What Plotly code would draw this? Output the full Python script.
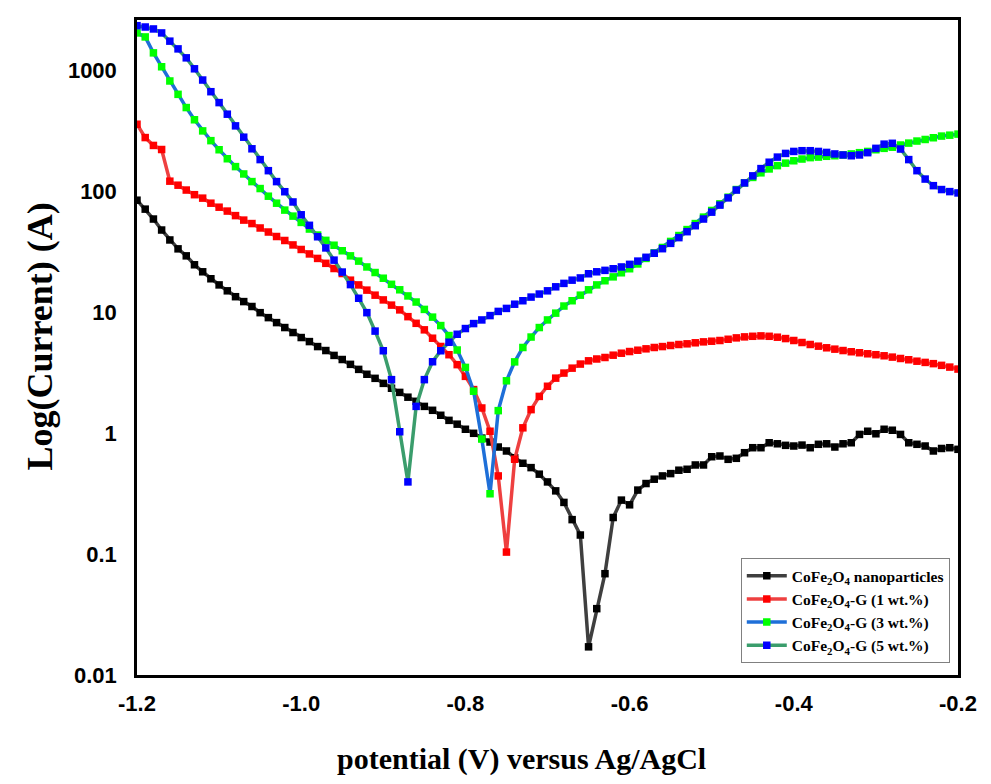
import plotly.graph_objects as go

# Potential sweep (V vs Ag/AgCl), 10 mV steps from -1.20 to -0.20
potential = [round(-1.20 + 0.01 * i, 2) for i in range(101)]

cofe2o4_np = [
    84.9, 71.6, 59.3, 48.1, 39.8, 33.6, 29.4, 24.8, 21.7, 19.0,
    16.9, 15.1, 13.5, 12.3, 11.2, 9.96, 9.06, 8.24, 7.50, 6.82,
    6.20, 5.74, 5.22, 4.84, 4.41, 4.08, 3.72, 3.38, 3.08, 2.85,
    2.59, 2.36, 2.18, 1.99, 1.84, 1.67, 1.55, 1.41, 1.28, 1.19,
    1.08, 1.00, 0.913, 0.847, 0.770, 0.714, 0.628, 0.565, 0.520, 0.459,
    0.396, 0.334, 0.268, 0.193, 0.144, 0.0171, 0.0354, 0.0689, 0.201, 0.280,
    0.256, 0.339, 0.384, 0.417, 0.444, 0.464, 0.495, 0.504, 0.547, 0.547,
    0.640, 0.649, 0.609, 0.621, 0.691, 0.760, 0.760, 0.835, 0.819, 0.795,
    0.785, 0.799, 0.760, 0.811, 0.819, 0.770, 0.819, 0.835, 0.979, 1.04,
    0.991, 1.08, 1.06, 0.979, 0.835, 0.811, 0.785, 0.714, 0.749, 0.760,
    0.737,
]

cofe2o4_g1 = [
    361, 280, 241, 223, 122, 113, 103, 94.3, 88.3, 80.2,
    74.3, 69.0, 63.3, 58.1, 54.4, 50.0, 46.3, 42.5, 39.4, 36.2,
    33.2, 30.5, 28.0, 25.5, 23.1, 21.0, 18.5, 16.9, 15.3, 13.9,
    12.7, 11.5, 10.5, 9.23, 8.13, 7.18, 6.12, 5.23, 4.47, 3.70,
    2.96, 2.30, 1.62, 1.04, 0.444, 0.104, 0.610, 1.11, 1.57, 2.02,
    2.45, 2.86, 3.15, 3.46, 3.74, 3.98, 4.12, 4.24, 4.43, 4.60,
    4.75, 4.87, 5.00, 5.13, 5.22, 5.33, 5.43, 5.50, 5.61, 5.71,
    5.78, 5.86, 6.00, 6.16, 6.28, 6.35, 6.40, 6.35, 6.24, 6.08,
    5.86, 5.64, 5.43, 5.26, 5.10, 4.97, 4.84, 4.73, 4.64, 4.55,
    4.47, 4.38, 4.27, 4.16, 4.06, 3.95, 3.86, 3.77, 3.65, 3.53,
    3.40,
]

cofe2o4_g3 = [
    2056, 1905, 1406, 1079, 823, 638, 496, 393, 318, 264,
    222, 187, 161, 140, 121, 106, 91.6, 80.2, 70.3, 62.7,
    55.6, 49.0, 43.7, 39.5, 36.0, 32.4, 29.4, 26.6, 23.8, 21.4,
    19.2, 17.1, 15.4, 13.7, 12.2, 10.6, 9.15, 7.79, 6.44, 4.89,
    3.51, 2.23, 0.896, 0.316, 1.54, 2.72, 3.90, 5.13, 6.26, 7.50,
    8.67, 9.87, 11.3, 12.5, 13.9, 15.4, 16.9, 18.3, 19.7, 21.3,
    23.0, 25.2, 28.0, 31.1, 34.5, 38.7, 43.3, 48.5, 54.4, 61.5,
    69.8, 79.2, 89.9, 104, 118, 131, 143, 154, 164, 172,
    180, 186, 191, 193, 196, 198, 201, 205, 210, 215,
    222, 228, 233, 243, 252, 262, 270, 279, 288, 293,
    299,
]

cofe2o4_g5 = [
    2360, 2302, 2218, 2056, 1758, 1517, 1279, 1038, 838, 671,
    545, 437, 350, 282, 226, 184, 149, 121, 99.8, 82.1,
    64.3, 52.6, 42.3, 34.2, 27.1, 21.6, 17.0, 13.1, 9.96, 7.01,
    4.82, 2.78, 1.03, 0.396, 1.67, 2.78, 3.91, 4.82, 5.67, 6.60,
    7.36, 8.09, 8.67, 9.42, 10.2, 10.8, 11.7, 12.5, 13.4, 14.2,
    15.1, 16.3, 17.4, 18.5, 19.3, 20.9, 21.7, 22.3, 23.0, 23.8,
    25.0, 26.6, 28.6, 30.9, 33.7, 37.3, 41.6, 46.6, 52.2, 59.3,
    67.6, 77.3, 88.7, 103, 118, 135, 155, 175, 193, 207,
    215, 218, 218, 215, 211, 205, 201, 198, 201, 210,
    228, 247, 251, 225, 184, 149, 127, 112, 104, 100,
    97.5,
]

x_tick_vals = [-1.2, -1.0, -0.8, -0.6, -0.4, -0.2]
x_tick_text = ["-1.2", "-1.0", "-0.8", "-0.6", "-0.4", "-0.2"]
y_tick_vals = [0.01, 0.1, 1, 10, 100, 1000]
y_tick_text = ["0.01", "0.1", "1", "10", "100", "1000"]

series = [
    ("CoFe<sub>2</sub>O<sub>4</sub> nanoparticles", cofe2o4_np, "#3f3f3f", "#000000"),
    ("CoFe<sub>2</sub>O<sub>4</sub>-G (1 wt.%)", cofe2o4_g1, "#ee4040", "#ff0000"),
    ("CoFe<sub>2</sub>O<sub>4</sub>-G (3 wt.%)", cofe2o4_g3, "#1e6fd8", "#00ff00"),
    ("CoFe<sub>2</sub>O<sub>4</sub>-G (5 wt.%)", cofe2o4_g5, "#3a9d6c", "#0000ff"),
]

fig = go.Figure()
for name, vals, lcol, mcol in series:
    fig.add_trace(go.Scatter(
        x=potential, y=vals, name=name, mode="lines+markers",
        line=dict(color=lcol, width=3.5),
        marker=dict(symbol="square", size=7.5, color=mcol, line=dict(width=0)),
    ))

serif = "Liberation Serif, Times New Roman, serif"
sans = "Liberation Sans, Arial, sans-serif"

fig.update_layout(
    width=983, height=776,
    margin=dict(l=129, r=33, t=9, b=109),
    paper_bgcolor="white", plot_bgcolor="white",
    showlegend=True,
    legend=dict(
        x=0.99, y=0.018, xanchor="right", yanchor="bottom",
        bgcolor="white", bordercolor="#808080", borderwidth=1,
        font=dict(family=serif, size=15.5, color="black", weight="bold"),
        tracegroupgap=0, itemwidth=40,
    ),
    xaxis=dict(
        range=[-1.2, -0.2], tickvals=x_tick_vals, ticktext=x_tick_text,
        showgrid=False, zeroline=False, showline=True, linecolor="black", linewidth=2.5,
        mirror=True, ticks="", ticklabelstandoff=7,
        tickfont=dict(family=sans, size=22, color="black", weight="bold"),
    ),
    yaxis=dict(
        type="log", range=[-2, 3.42], tickvals=y_tick_vals, ticktext=y_tick_text,
        showgrid=False, zeroline=False, showline=True, linecolor="black", linewidth=2.5,
        mirror=True, ticks="", ticklabelstandoff=13,
        tickfont=dict(family=sans, size=22, color="black", weight="bold"),
    ),
    annotations=[
        dict(text="potential (V) versus Ag/AgCl", xref="paper", yref="paper",
             x=0.468, y=-0.129, xanchor="center", yanchor="middle", showarrow=False,
             font=dict(family=serif, size=30, color="black", weight="bold")),
        dict(text="Log(Current) (A)", xref="paper", yref="paper",
             x=-0.118, y=0.517, xanchor="center", yanchor="middle", showarrow=False,
             textangle=-90, font=dict(family=serif, size=36, color="black", weight="bold")),
    ],
)

fig.write_html("out.html")
